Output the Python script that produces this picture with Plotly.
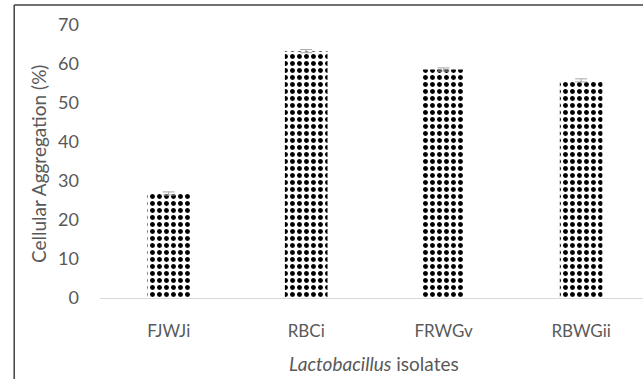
import plotly.graph_objects as go

categories = ["FJWJi", "RBCi", "FRWGv", "RBWGii"]
values = [26.8, 63.3, 58.6, 55.8]
errors = [0.4, 0.4, 0.4, 0.4]
y_ticks = [0, 10, 20, 30, 40, 50, 60, 70]

FONT = "Lato, 'Open Sans', sans-serif"
GRAY = "#595959"

fig = go.Figure()
fig.add_trace(go.Bar(
    x=list(range(len(categories))),
    y=values,
    width=0.31,
    marker=dict(
        color="white",
        line=dict(width=0),
        pattern=dict(shape=".", fgcolor="#000000", bgcolor="white", fgopacity=1,
                     size=7, solidity=0.4),
    ),
    error_y=dict(type="data", array=errors, visible=True, color="#a6a6a6", thickness=1, width=6),
))

fig.update_layout(
    width=643, height=379,
    margin=dict(l=100, r=0, t=25, b=81),
    paper_bgcolor="white", plot_bgcolor="white",
    showlegend=False,
    font=dict(family=FONT, size=18, color=GRAY),
    xaxis=dict(
        tickmode="array", tickvals=list(range(len(categories))), ticktext=categories,
        range=[-0.5, 3.45], showgrid=False, zeroline=False,
        showline=True, linecolor="#d9d9d9", linewidth=1,
        ticks="", ticklabelstandoff=18,
        tickfont=dict(family=FONT, size=17, color=GRAY),
    ),
    yaxis=dict(
        range=[0, 70], tickvals=y_ticks, showgrid=False, zeroline=False,
        showline=False, ticks="", ticklabelstandoff=20,
        tickfont=dict(family=FONT, size=18, color=GRAY),
    ),
    shapes=[
        dict(type="line", xref="paper", yref="paper", x0=-0.158, x1=1.2, y0=1.073, y1=1.073,
             line=dict(color="#404040", width=1.5)),
        dict(type="line", xref="paper", yref="paper", x0=-0.158, x1=-0.158, y0=-0.5, y1=1.073,
             line=dict(color="#404040", width=1.5)),
    ],
    annotations=[
        dict(text="Cellular Aggregation (%)", xref="paper", yref="paper",
             x=(38 - 100) / 543, y=(298 - 164) / 273, textangle=-90, showarrow=False,
             xanchor="center", yanchor="middle",
             font=dict(family=FONT, size=19, color=GRAY)),
        dict(text="<i>Lactobacillus</i> isolates", xref="paper", yref="paper",
             x=(374 - 100) / 543, y=-(363 - 298) / 273, showarrow=False,
             xanchor="center", yanchor="middle",
             font=dict(family=FONT, size=19, color=GRAY)),
    ],
)

fig.write_html("out.html", config={"displayModeBar": False},
               post_script="document.body.style.margin='0';")
